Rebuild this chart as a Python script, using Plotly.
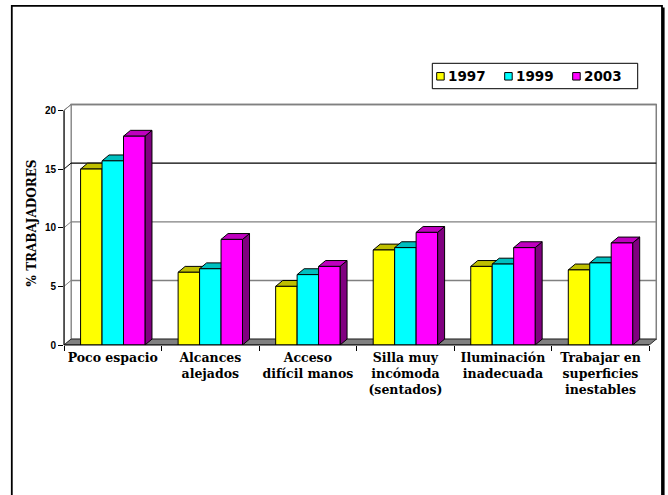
import plotly.graph_objects as go

# ---- data -------------------------------------------------------------
categories = [
    "Poco espacio",
    "Alcances<br>alejados",
    "Acceso<br>difícil manos",
    "Silla muy<br>incómoda<br>(sentados)",
    "Iluminación<br>inadecuada",
    "Trabajar en<br>superficies<br>inestables",
]
years = ["1997", "1999", "2003"]
pct_1997 = [15.0, 6.2, 5.0, 8.1, 6.7, 6.4]
pct_1999 = [15.7, 6.5, 6.0, 8.3, 6.9, 7.0]
pct_2003 = [17.8, 9.0, 6.7, 9.6, 8.3, 8.7]
y_ticks = [0, 5, 10, 15, 20]
y_title = "% TRABAJADORES"

# ---- styling -----------------------------------------------------------
front_colors = ["#FFFF00", "#00FFFF", "#FF00FF"]
top_colors = ["#BFBF00", "#00BFBF", "#BF00BF"]
side_colors = ["#808000", "#008080", "#800080"]
grid_colors = {15: "#000000"}          # other gridlines are grey
GREY = "#808080"

series = [pct_1997, pct_1999, pct_2003]
n_cat = len(categories)
n_ser = len(series)
BAR_W = 0.22                      # width of one bar (category pitch = 1)
GROUP_W = BAR_W * n_ser
DX, DY = 0.072, 0.5               # depth offset of the 3-D look, axis units
Y_TOP = y_ticks[-1]

W, H = 668, 495
ML, MR, MT, MB = 64, 9, 101, 150
X_MAX, Y_MAX = 6.1, 20.8
PW, PH = W - ML - MR, H - MT - MB


def px_x(px):
    """pixel column -> paper x"""
    return (px - ML) / PW


def px_y(py):
    """pixel row -> paper y"""
    return (H - MB - py) / PH


fig = go.Figure()

# front faces of the bars
for s, (name, vals) in enumerate(zip(years, series)):
    fig.add_trace(go.Bar(
        x=[i + 0.5 for i in range(n_cat)], y=vals, name=name,
        marker=dict(color=front_colors[s], line=dict(color="black", width=1)),
        showlegend=False, hoverinfo="x+y",
    ))

shapes = []

# back wall, left wall and floor
shapes.append(dict(type="rect", xref="x", yref="y", layer="below",
                   x0=DX, x1=n_cat + DX, y0=DY, y1=Y_TOP + DY,
                   fillcolor="white", line=dict(color=GREY, width=1.5)))
shapes.append(dict(type="path", xref="x", yref="y", layer="below",
                   path=f"M0,0 L0,{Y_TOP} L{DX},{Y_TOP + DY} L{DX},{DY} Z",
                   fillcolor="white", line=dict(color=GREY, width=1)))
for v in y_ticks[1:]:
    c = grid_colors.get(v, GREY)
    shapes.append(dict(type="line", xref="x", yref="y", layer="below",
                       x0=DX, x1=n_cat + DX, y0=v + DY, y1=v + DY,
                       line=dict(color=c, width=1.3)))
    shapes.append(dict(type="line", xref="x", yref="y", layer="below",
                       x0=0, x1=DX, y0=v, y1=v + DY,
                       line=dict(color=c, width=1)))
shapes.append(dict(type="path", xref="x", yref="y", layer="below",
                   path=f"M0,0 L{n_cat},0 L{n_cat + DX},{DY} L{DX},{DY} Z",
                   fillcolor=GREY, line=dict(color="#303030", width=1)))

# top and side faces of each bar (the front faces of later bars cover them)
for i in range(n_cat):
    for s in range(n_ser):
        v = series[s][i]
        L = i + 0.5 - GROUP_W / 2 + s * BAR_W
        R = L + BAR_W
        shapes.append(dict(
            type="path", xref="x", yref="y", layer="between",
            path=f"M{R},0 L{R},{v} L{R + DX},{v + DY} L{R + DX},{DY} Z",
            fillcolor=side_colors[s], line=dict(color="black", width=1)))
        shapes.append(dict(
            type="path", xref="x", yref="y", layer="between",
            path=f"M{L},{v} L{L + DX},{v + DY} L{R + DX},{v + DY} L{R},{v} Z",
            fillcolor=top_colors[s], line=dict(color="black", width=1)))

# front axis lines
shapes.append(dict(type="line", xref="paper", yref="y", x0=0, x1=0,
                   y0=0, y1=Y_TOP, line=dict(color="black", width=1.2)))
shapes.append(dict(type="line", xref="x", yref="paper", x0=0, x1=n_cat,
                   y0=0, y1=0, line=dict(color="black", width=1.2)))

# chart frame with a shadow on the right
shapes.append(dict(type="rect", xref="paper", yref="paper",
                   x0=px_x(11.8), x1=px_x(662), y0=px_y(5.8), y1=px_y(505),
                   line=dict(color="black", width=1.8)))
shapes.append(dict(type="line", xref="paper", yref="paper",
                   x0=px_x(663.3), x1=px_x(663.3), y0=px_y(7.5), y1=px_y(505),
                   line=dict(color="black", width=2.6)))

# legend
LEG_L, LEG_R, LEG_T, LEG_B = 432.3, 637.7, 63.3, 88.7
PITCH, SQ = 68.0, 7.5
shapes.append(dict(type="rect", xref="paper", yref="paper",
                   x0=px_x(LEG_L), x1=px_x(LEG_R), y0=px_y(LEG_B), y1=px_y(LEG_T),
                   fillcolor="white", line=dict(color="black", width=1)))
annotations = []
mid = (LEG_T + LEG_B) / 2
for s, name in enumerate(years):
    x_sq = LEG_L + 4.4 + s * PITCH
    shapes.append(dict(type="rect", xref="paper", yref="paper",
                       x0=px_x(x_sq), x1=px_x(x_sq + SQ),
                       y0=px_y(mid + SQ / 2 + 0.3), y1=px_y(mid - SQ / 2 + 0.3),
                       fillcolor=front_colors[s], line=dict(color="black", width=1)))
    annotations.append(dict(
        xref="paper", yref="paper", x=px_x(x_sq + SQ + 1.5), y=px_y(mid),
        xanchor="left", yanchor="middle", showarrow=False, text=name,
        font=dict(family="DejaVu Sans", size=13.5, color="black", weight="bold")))

fig.update_layout(
    width=W, height=H,
    margin=dict(l=ML, r=MR, t=MT, b=MB, pad=0),
    paper_bgcolor="white", plot_bgcolor="rgba(0,0,0,0)",
    barmode="group", bargap=1 - GROUP_W, bargroupgap=0,
    showlegend=False,
    shapes=shapes, annotations=annotations,
    xaxis=dict(
        range=[0, X_MAX], autorange=False, fixedrange=True,
        tickmode="array", tickvals=[i + 0.5 for i in range(n_cat)],
        ticktext=categories, ticks="", showgrid=False, zeroline=False,
        showline=False, tickangle=0, ticklabelstandoff=3,
        tickfont=dict(family="DejaVu Serif", size=12.5, color="black", weight="bold"),
        minor=dict(tickmode="array", tickvals=list(range(n_cat + 1)),
                   ticks="outside", ticklen=5, tickwidth=1, tickcolor="black",
                   showgrid=False),
    ),
    yaxis=dict(
        range=[0, Y_MAX], autorange=False, fixedrange=True,
        tickmode="array", tickvals=y_ticks, ticks="outside", ticklen=5,
        tickwidth=1, tickcolor="black", showgrid=False, zeroline=False,
        showline=False,
        tickfont=dict(family="Liberation Sans", size=10, color="black", weight="bold"),
        title=dict(text=y_title, standoff=5,
                   font=dict(family="DejaVu Serif", size=12, color="black", weight="bold")),
    ),
)

fig.write_html("out.html")
